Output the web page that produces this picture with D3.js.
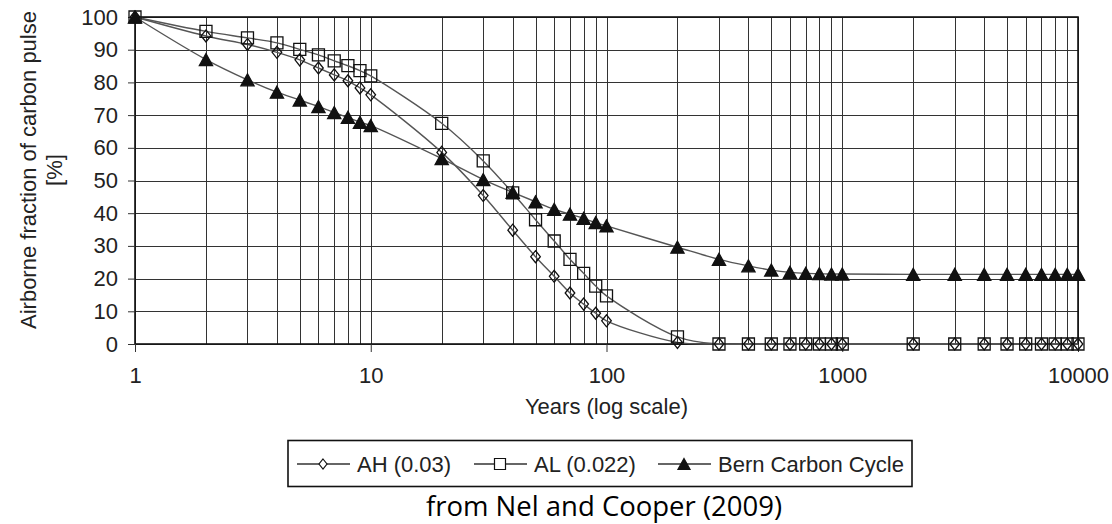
<!DOCTYPE html>
<meta charset="utf-8">
<style>
body { margin: 0; background: #fff; }
svg { display: block; }
text { font-family: "Liberation Sans", Arial, sans-serif; }
.grid line { stroke: #333; stroke-width: 1; shape-rendering: crispEdges; }
.axis text { font-family: "Liberation Sans", Arial, sans-serif; font-size: 22px; fill: #222; }
.axis path { display: none; }
.axis line { stroke: #333; }
.series { fill: none; stroke: #555; stroke-width: 1.4; }
</style>
<svg width="1112" height="524"></svg>
<script src="https://d3js.org/d3.v7.min.js"></script>
<script>

// years of the pulse response (x)
var years = [1, 2, 3, 4, 5, 6, 7, 8, 9, 10,
             20, 30, 40, 50, 60, 70, 80, 90, 100,
             200, 300, 400, 500, 600, 700, 800, 900, 1000,
             2000, 3000, 4000, 5000, 6000, 7000, 8000, 9000, 10000];

var ah = [100, 94.2, 91.6, 89.2, 86.9, 84.4, 82.3, 80.5, 78.3, 76.2,
          58.6, 45.4, 34.8, 26.7, 20.7, 15.6, 12.2, 9.4, 7.1,
          0.5, 0, 0, 0, 0, 0, 0, 0, 0,
          0, 0, 0, 0, 0, 0, 0, 0, 0];

var al = [100, 95.6, 93.6, 92.1, 90.1, 88.4, 86.6, 85.1, 83.6, 82.0,
          67.5, 56.0, 46.2, 38.0, 31.5, 25.9, 21.6, 17.7, 14.7,
          2.2, 0, 0, 0, 0, 0, 0, 0, 0,
          0, 0, 0, 0, 0, 0, 0, 0, 0];

var bern = [100, 87.0, 80.8, 77.0, 74.6, 72.6, 70.8, 69.3, 67.8, 66.8,
            56.7, 50.3, 46.4, 43.5, 41.2, 39.7, 38.4, 37.1, 36.1,
            29.6, 25.9, 23.9, 22.6, 21.9, 21.6, 21.5, 21.4, 21.4,
            21.3, 21.3, 21.3, 21.3, 21.3, 21.3, 21.3, 21.3, 21.3];

var seriesNames = ["AH (0.03)", "AL (0.022)", "Bern Carbon Cycle"];
var xTicks = [1, 10, 100, 1000, 10000];
var yTicks = [0, 10, 20, 30, 40, 50, 60, 70, 80, 90, 100];

var svg = d3.select("svg"),
    margin = {top: 17, right: 34, bottom: 180, left: 135},
    width = +svg.attr("width") - margin.left - margin.right,
    height = +svg.attr("height") - margin.top - margin.bottom;

var x = d3.scaleLog().domain([1, 10000]).range([0, width]);
var y = d3.scaleLinear().domain([0, 100]).range([height, 0]);

var g = svg.append("g")
    .attr("transform", "translate(" + margin.left + "," + margin.top + ")");

// grid: one vertical line per year value, horizontal every 10
g.append("g").attr("class", "grid")
  .selectAll("line").data(years).enter().append("line")
    .attr("x1", function(d) { return Math.round(x(d)) + 0.5; })
    .attr("x2", function(d) { return Math.round(x(d)) + 0.5; })
    .attr("y1", 0).attr("y2", height);

g.append("g").attr("class", "grid")
  .selectAll("line").data(yTicks).enter().append("line")
    .attr("x1", 0).attr("x2", width)
    .attr("y1", function(d) { return Math.round(y(d)) + 0.5; })
    .attr("y2", function(d) { return Math.round(y(d)) + 0.5; });

g.append("rect")
    .attr("width", width).attr("height", height)
    .attr("fill", "none").attr("stroke", "#111").attr("stroke-width", 1.6);

// axes
g.append("g").attr("class", "axis")
    .attr("transform", "translate(0," + height + ")")
    .call(d3.axisBottom(x).tickValues(xTicks).tickFormat(d3.format("d"))
          .tickSize(8).tickPadding(15));

g.append("g").attr("class", "axis")
    .call(d3.axisLeft(y).tickValues(yTicks).tickSize(7).tickPadding(10));

g.append("text")
    .attr("x", x(100)).attr("y", height + 70)
    .attr("text-anchor", "middle").attr("font-size", 22).attr("fill", "#222")
    .text("Years (log scale)");

var ylab = svg.append("text")
    .attr("transform", "translate(36,170) rotate(-90)")
    .attr("text-anchor", "middle").attr("font-size", 22).attr("fill", "#222");
ylab.append("tspan").attr("x", 0).attr("dy", 0).text("Airborne fraction of carbon pulse");
ylab.append("tspan").attr("x", 0).attr("dy", 26).text("[%]");

// markers
function diamond(s) {
  return "M0," + (-s) + "L" + (s * 0.8) + ",0L0," + s + "L" + (-s * 0.8) + ",0Z";
}
function square(s) {
  return "M" + (-s) + "," + (-s) + "H" + s + "V" + s + "H" + (-s) + "Z";
}
function triangle(s) {
  return "M0," + (-s) + "L" + (s * 1.1) + "," + s + "L" + (-s * 1.1) + "," + s + "Z";
}

var series = [
  {name: seriesNames[0], values: ah, mark: diamond(6), legendMark: diamond(5), fill: "none"},
  {name: seriesNames[1], values: al, mark: square(6), legendMark: square(5.5), fill: "none"},
  {name: seriesNames[2], values: bern, mark: triangle(6), legendMark: triangle(5.5), fill: "#111"}
];

var line = d3.line()
    .x(function(d, i) { return x(years[i]); })
    .y(function(d) { return y(d); })
    .curve(d3.curveCatmullRom.alpha(0.5));

series.forEach(function(s) {
  g.append("path").attr("class", "series").attr("d", line(s.values));
});

series.forEach(function(s) {
  g.append("g").selectAll("path").data(s.values).enter().append("path")
    .attr("transform", function(d, i) { return "translate(" + x(years[i]) + "," + y(d) + ")"; })
    .attr("d", s.mark)
    .attr("fill", s.fill)
    .attr("stroke", "#111").attr("stroke-width", 1.3);
});

// legend
var legend = svg.append("g");
legend.append("rect")
    .attr("x", 288).attr("y", 440.5).attr("width", 624).attr("height", 46)
    .attr("fill", "#fff").attr("stroke", "#111").attr("stroke-width", 1.6);

var legendX = [297, 474, 658];
series.forEach(function(s, i) {
  var lg = legend.append("g").attr("transform", "translate(" + legendX[i] + ",464)");
  lg.append("line").attr("x1", 0).attr("x2", 53)
    .attr("stroke", "#333").attr("stroke-width", 1.3);
  lg.append("path").attr("transform", "translate(26,0)")
    .attr("d", s.legendMark).attr("fill", s.fill === "none" ? "#fff" : s.fill)
    .attr("stroke", "#111").attr("stroke-width", 1.2);
  lg.append("text").attr("x", 60).attr("dy", "0.35em")
    .attr("font-size", 22).attr("fill", "#222").text(s.name);
});

svg.append("text")
    .attr("x", 604).attr("y", 516)
    .attr("text-anchor", "middle")
    .style("font-family", "'Open Sans', 'Noto Sans', sans-serif")
    .attr("font-size", 27.5).attr("fill", "#000")
    .text("from Nel and Cooper (2009)");

</script>
